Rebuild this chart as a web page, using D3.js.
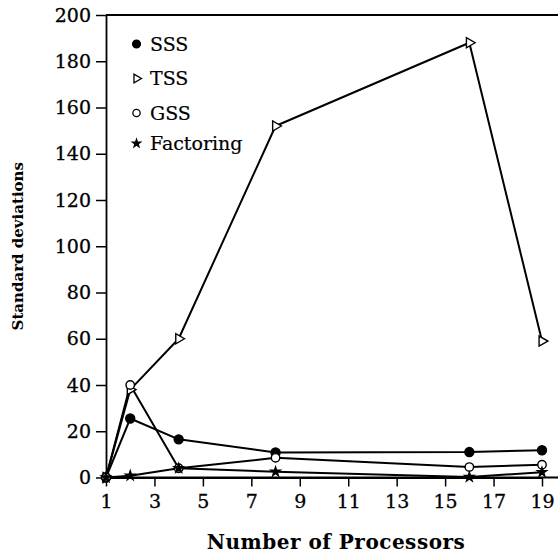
<!DOCTYPE html>
<html>
<head>
<meta charset="utf-8">
<script src="https://cdn.jsdelivr.net/npm/d3@7"></script>
<style>
  body { margin: 0; background: #fff; }
  svg { display: block; }
</style>
</head>
<body>
<svg id="chart" width="558" height="555"></svg>
<script>
// Standard deviation of run times per scheduling scheme
const processors = [1, 2, 4, 8, 16, 19];
const sss = [0, 25.5, 16.5, 10.8, 11, 11.8];
const tss = [0, 38, 60, 152, 188, 59];
const gss = [0, 40, 4, 8.5, 4.5, 5.5];
const factoring = [0, 0.8, 4, 2.5, 0.2, 2.3];

const seriesNames = ["SSS", "TSS", "GSS", "Factoring"];
const xTickValues = [1, 3, 5, 7, 9, 11, 13, 15, 17, 19];
const yTickValues = [0, 20, 40, 60, 80, 100, 120, 140, 160, 180, 200];

const width = 558, height = 555;
const svg = d3.select("#chart");
const serif = "'DejaVu Serif', 'Liberation Serif', serif";

const x = d3.scaleLinear().domain([1, 19]).range([106, 542]);
const y = d3.scaleLinear().domain([0, 200]).range([477.5, 15]);

// Frame: left axis, bottom axis, top rule
const xAxis = d3.axisBottom(x).tickValues(xTickValues).tickSize(9).tickSizeOuter(0).tickPadding(8);
const yAxis = d3.axisLeft(y).tickValues(yTickValues).tickSize(10).tickSizeOuter(0).tickPadding(5);

const gx = svg.append("g").attr("transform", `translate(0,${y(0)})`).call(xAxis);
const gy = svg.append("g").attr("transform", `translate(${x(1)},0)`).call(yAxis);

[gx, gy].forEach(g => {
  g.select(".domain").attr("stroke", "#000").attr("stroke-width", 1.8);
  g.selectAll(".tick line").attr("stroke", "#000").attr("stroke-width", 1.5);
  g.selectAll(".tick text")
    .attr("fill", "#000")
    .attr("stroke", "#000")
    .attr("stroke-width", 0.3)
    .style("font-family", serif)
    .style("font-size", "19px");
});

svg.append("line")
  .attr("x1", x(1)).attr("x2", width)
  .attr("y1", y(0)).attr("y2", y(0))
  .attr("stroke", "#000").attr("stroke-width", 1.8);
svg.append("line")
  .attr("x1", x(1)).attr("x2", width)
  .attr("y1", y(200)).attr("y2", y(200))
  .attr("stroke", "#000").attr("stroke-width", 1.8);

// Axis titles
svg.append("text")
  .attr("x", 336)
  .attr("y", 549)
  .attr("text-anchor", "middle")
  .style("font-family", serif)
  .style("font-weight", "bold")
  .style("font-size", "20px")
  .style("letter-spacing", "0.5px")
  .text("Number of Processors");

svg.append("text")
  .attr("transform", `translate(23,${(y(0) + y(200)) / 2}) rotate(-90)`)
  .attr("text-anchor", "middle")
  .style("font-family", serif)
  .style("font-weight", "bold")
  .style("font-size", "15px")
  .text("Standard deviations");

// Series
const series = [
  { name: seriesNames[0], values: sss, symbol: d3.symbolCircle, size: 64, fill: "#000", rotate: 0 },
  { name: seriesNames[1], values: tss, symbol: d3.symbolTriangle, size: 44, fill: "#fff", rotate: 90 },
  { name: seriesNames[2], values: gss, symbol: d3.symbolCircle, size: 56, fill: "#fff", rotate: 0 },
  { name: seriesNames[3], values: factoring, symbol: d3.symbolStar, size: 26, fill: "#000", rotate: 0 }
];

const line = d3.line().x(d => x(d[0])).y(d => y(d[1]));

series.forEach(s => {
  const pts = processors.map((p, i) => [p, s.values[i]]);
  svg.append("path")
    .attr("d", line(pts))
    .attr("fill", "none")
    .attr("stroke", "#000")
    .attr("stroke-width", 2)
    .attr("stroke-linejoin", "round");
});

series.forEach(s => {
  const pts = processors.map((p, i) => [p, s.values[i]]);
  svg.append("g").selectAll("path")
    .data(pts)
    .join("path")
    .attr("transform", d => `translate(${x(d[0])},${y(d[1])}) rotate(${s.rotate})`)
    .attr("d", d3.symbol().type(s.symbol).size(s.size))
    .attr("fill", s.fill)
    .attr("stroke", "#000")
    .attr("stroke-width", 1.4);
});

// Legend
const legendY = [44, 78.5, 113, 143.5];
const legend = svg.append("g");
series.forEach((s, i) => {
  legend.append("path")
    .attr("transform", `translate(136.5,${legendY[i]}) rotate(${s.rotate})`)
    .attr("d", d3.symbol().type(s.symbol).size(s.size * 0.75))
    .attr("fill", s.fill)
    .attr("stroke", "#000")
    .attr("stroke-width", 1.3);
  legend.append("text")
    .attr("x", 150)
    .attr("y", legendY[i])
    .attr("dy", "0.36em")
    .attr("stroke", "#000")
    .attr("stroke-width", 0.2)
    .style("font-family", serif)
    .style("font-size", "19px")
    .text(s.name);
});
</script>
</body>
</html>
